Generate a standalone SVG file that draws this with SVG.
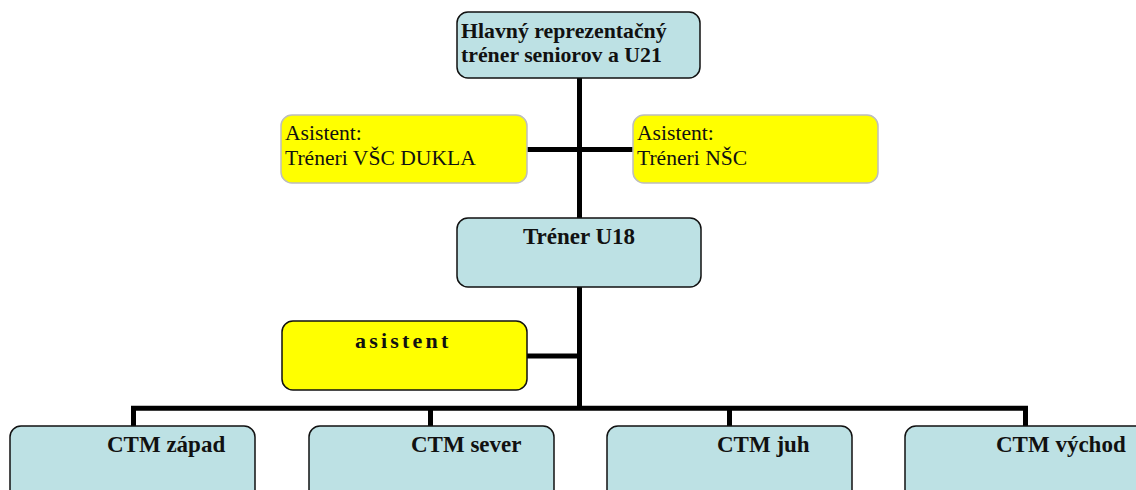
<svg xmlns="http://www.w3.org/2000/svg" width="1136" height="490" viewBox="0 0 1136 490">
<style>
.blue{fill:#bde1e4;stroke:#111;stroke-width:1.5}
.yel{fill:#ffff00;stroke:#bdbdbd;stroke-width:1.5}
.yeld{fill:#ffff00;stroke:#111;stroke-width:1.5}
.b{font-family:"Liberation Serif","Times New Roman",serif;font-weight:bold;fill:#111}
.r{font-family:"Liberation Serif","Times New Roman",serif;fill:#111}
.ln{stroke:#000;stroke-width:5;fill:none}
</style>
<rect width="1136" height="490" fill="#fff"/>
<g id="connectors">
<line class="ln" x1="579.5" y1="78" x2="579.5" y2="218"/>
<line class="ln" x1="527" y1="149.5" x2="633" y2="149.5"/>
<line class="ln" x1="579.5" y1="287" x2="579.5" y2="408"/>
<line class="ln" x1="527" y1="356" x2="579.5" y2="356"/>
<polyline class="ln" points="133.5,426 133.5,408.2 1025.5,408.2 1025.5,426"/>
<line class="ln" x1="430.5" y1="408" x2="430.5" y2="426"/>
<line class="ln" x1="729.5" y1="408" x2="729.5" y2="426"/>
</g>
<g id="n-hlavny">
<rect class="blue" x="457" y="12" width="243" height="66" rx="11"/>
<text class="b" font-size="21.8" x="461" y="38">Hlavný reprezentačný</text>
<text class="b" font-size="21.8" x="461" y="62">tréner seniorov a U21</text>
</g>
<g id="n-asist-dukla">
<rect class="yel" x="281" y="115" width="246" height="68" rx="11"/>
<text class="r" font-size="21.6" x="285" y="140">Asistent:</text>
<text class="r" font-size="21.6" x="285" y="165">Tréneri VŠC DUKLA</text>
</g>
<g id="n-asist-nsc">
<rect class="yel" x="633" y="115" width="245" height="68" rx="11"/>
<text class="r" font-size="21.6" x="637" y="140">Asistent:</text>
<text class="r" font-size="21.6" x="637" y="165">Tréneri NŠC</text>
</g>
<g id="n-u18">
<rect class="blue" x="457" y="218" width="244" height="69" rx="11"/>
<text class="b" font-size="23" x="579" y="244" text-anchor="middle">Tréner U18</text>
</g>
<g id="n-asistent">
<rect class="yeld" x="282" y="321" width="245" height="69" rx="11"/>
<text class="b" font-size="22" x="355" y="348" letter-spacing="3.2">asistent</text>
</g>
<g id="n-zapad">
<rect class="blue" x="10" y="426" width="245" height="80" rx="11"/>
<text class="b" font-size="23" x="107" y="452">CTM západ</text>
</g>
<g id="n-sever">
<rect class="blue" x="309" y="426" width="245" height="80" rx="11"/>
<text class="b" font-size="23" x="411" y="452">CTM sever</text>
</g>
<g id="n-juh">
<rect class="blue" x="607" y="426" width="245" height="80" rx="11"/>
<text class="b" font-size="23" x="717" y="452">CTM juh</text>
</g>
<g id="n-vychod">
<rect class="blue" x="905" y="426" width="260" height="80" rx="11"/>
<text class="b" font-size="23" x="996" y="452">CTM východ</text>
</g>
</svg>
